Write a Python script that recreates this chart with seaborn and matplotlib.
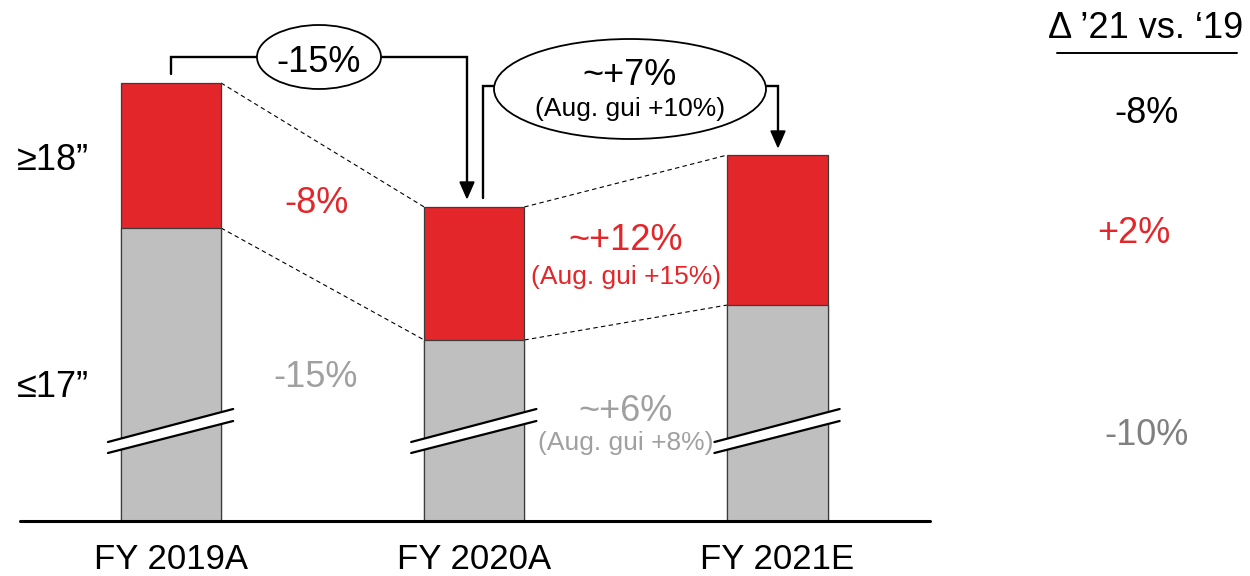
import matplotlib
matplotlib.use("Agg")
import matplotlib.pyplot as plt
import matplotlib.transforms as mtransforms
from matplotlib.patches import Ellipse, Polygon
import seaborn as sns
import pandas as pd

# ---- data -------------------------------------------------------------
years = ["FY 2019A", "FY 2020A", "FY 2021E"]
small_wheels = [293, 181, 216]      # <=17" segment (axis is broken)
large_wheels = [145, 133, 150]      # >=18" segment
totals = [s + l for s, l in zip(small_wheels, large_wheels)]

segment_labels = ["\u226518\u201d", "\u226417\u201d"]
change_total = "-15%"
change_total_next = "~+7%"
guide_total_next = "(Aug. gui +10%)"
change_large = ["-8%", "~+12%"]
guide_large = ["", "(Aug. gui +15%)"]
change_small = ["-15%", "~+6%"]
guide_small = ["", "(Aug. gui +8%)"]
delta_title = "\u0394 \u201921 vs. \u201819"
delta_values = ["-8%", "+2%", "-10%"]

RED = "#E3262A"
GRAY = "#BFBFBF"
GRAY_TXT = "#A0A0A0"
GRAY_DARK = "#808080"
EDGE = "#3C3C3C"

# ---- figure -------------------------------------------------------------
W, H = 1250, 576
sns.set_theme(style="white")
plt.rcParams["font.family"] = ["Liberation Sans", "DejaVu Sans"]

fig = plt.figure(figsize=(W / 100, H / 100), dpi=100)
ax = fig.add_axes([0, 0, 1, 1])

df = pd.DataFrame({"year": years, "small": small_wheels, "total": totals})
bar_w = 0.33
sns.barplot(data=df, x="year", y="total", color=RED, saturation=1,
            width=bar_w, edgecolor=EDGE, linewidth=0.9, ax=ax, zorder=2)
sns.barplot(data=df, x="year", y="small", color=GRAY, saturation=1,
            width=bar_w, edgecolor=EDGE, linewidth=0.9, ax=ax, zorder=3)

step = 303.25
x0 = 171
ax.set_xlim(-x0 / step, (W - x0) / step)
ax.set_ylim(521 - H, 521)
ax.set_axis_off()

# baseline
ax.axhline(0, xmin=20 / W, xmax=930 / W, color="black", lw=2.2, zorder=4)

# dashed connectors between segment tops
hw = bar_w / 2
for i in range(len(years) - 1):
    for vals in (totals, small_wheels):
        ax.plot([i + hw, i + 1 - hw], [vals[i], vals[i + 1]],
                ls=(0, (4, 3)), color="black", lw=0.8, zorder=1)

# axis-break symbols across every bar
for i in range(len(years)):
    xl, xr = i - 0.208, i + 0.205
    up = [(xl, 79), (xr, 112)]
    lo = [(xl, 68), (xr, 100)]
    ax.add_patch(Polygon([up[0], up[1], lo[1], lo[0]], closed=True,
                         facecolor="white", edgecolor="none", zorder=5))
    for ln in (up, lo):
        ax.plot([ln[0][0], ln[1][0]], [ln[0][1], ln[1][1]],
                color="black", lw=1.6, zorder=6)

# ---- annotations in pixel space (origin top-left) ----------------------
P = mtransforms.Affine2D().scale(1 / W, -1 / H).translate(0, 1) + fig.transFigure


def txt(x, y, s, size=26, color="black", ha="center", **kw):
    fig.text(x, y, s, transform=P, fontsize=size, color=color, ha=ha,
             va="baseline", **kw)


def line(xs, ys, lw=1.7):
    fig.add_artist(plt.Line2D(xs, ys, transform=P, color="black", lw=lw,
                              solid_joinstyle="miter", zorder=10))


def head(x, y_tip, length=16, half=7):
    fig.add_artist(Polygon([(x, y_tip), (x - half, y_tip - length),
                            (x + half, y_tip - length)], closed=True,
                           transform=P, facecolor="black",
                           edgecolor="black", zorder=10))


# category labels
for i, yr in enumerate(years):
    txt(x0 + i * step, 569, yr, size=25)

# segment labels
txt(17, 170, segment_labels[0], ha="left")
txt(17, 397, segment_labels[1], ha="left")

# bracket 2019 -> 2020
line([171, 171, 467, 467], [74, 57, 57, 184])
head(467, 198)
fig.add_artist(Ellipse((319, 57), 124, 64, transform=P, facecolor="white",
                       edgecolor="black", lw=1.3, zorder=11))
txt(319, 72, change_total, zorder=12)

# bracket 2020 -> 2021
line([483, 483, 778, 778], [198, 86, 86, 133])
head(778, 147)
fig.add_artist(Ellipse((630, 89), 272, 100, transform=P, facecolor="white",
                       edgecolor="black", lw=1.3, zorder=11))
txt(630, 85, change_total_next, zorder=12)
txt(630, 116, guide_total_next, size=19, zorder=12)

# segment changes
txt(316, 213, change_large[0], color=RED)
txt(316, 387, change_small[0], color=GRAY_TXT)
txt(626, 250, change_large[1], color=RED)
txt(626, 284, guide_large[1], size=19, color=RED)
txt(626, 421, change_small[1], color=GRAY_TXT)
txt(626, 450, guide_small[1], size=19, color=GRAY_TXT)

# delta column
txt(1146, 38, delta_title)
line([1057, 1237], [53, 53], lw=1.4)
txt(1147, 123, delta_values[0])
txt(1134, 243, delta_values[1], color=RED)
txt(1146, 445, delta_values[2], color=GRAY_DARK)

fig.savefig("out.png", dpi=100)
